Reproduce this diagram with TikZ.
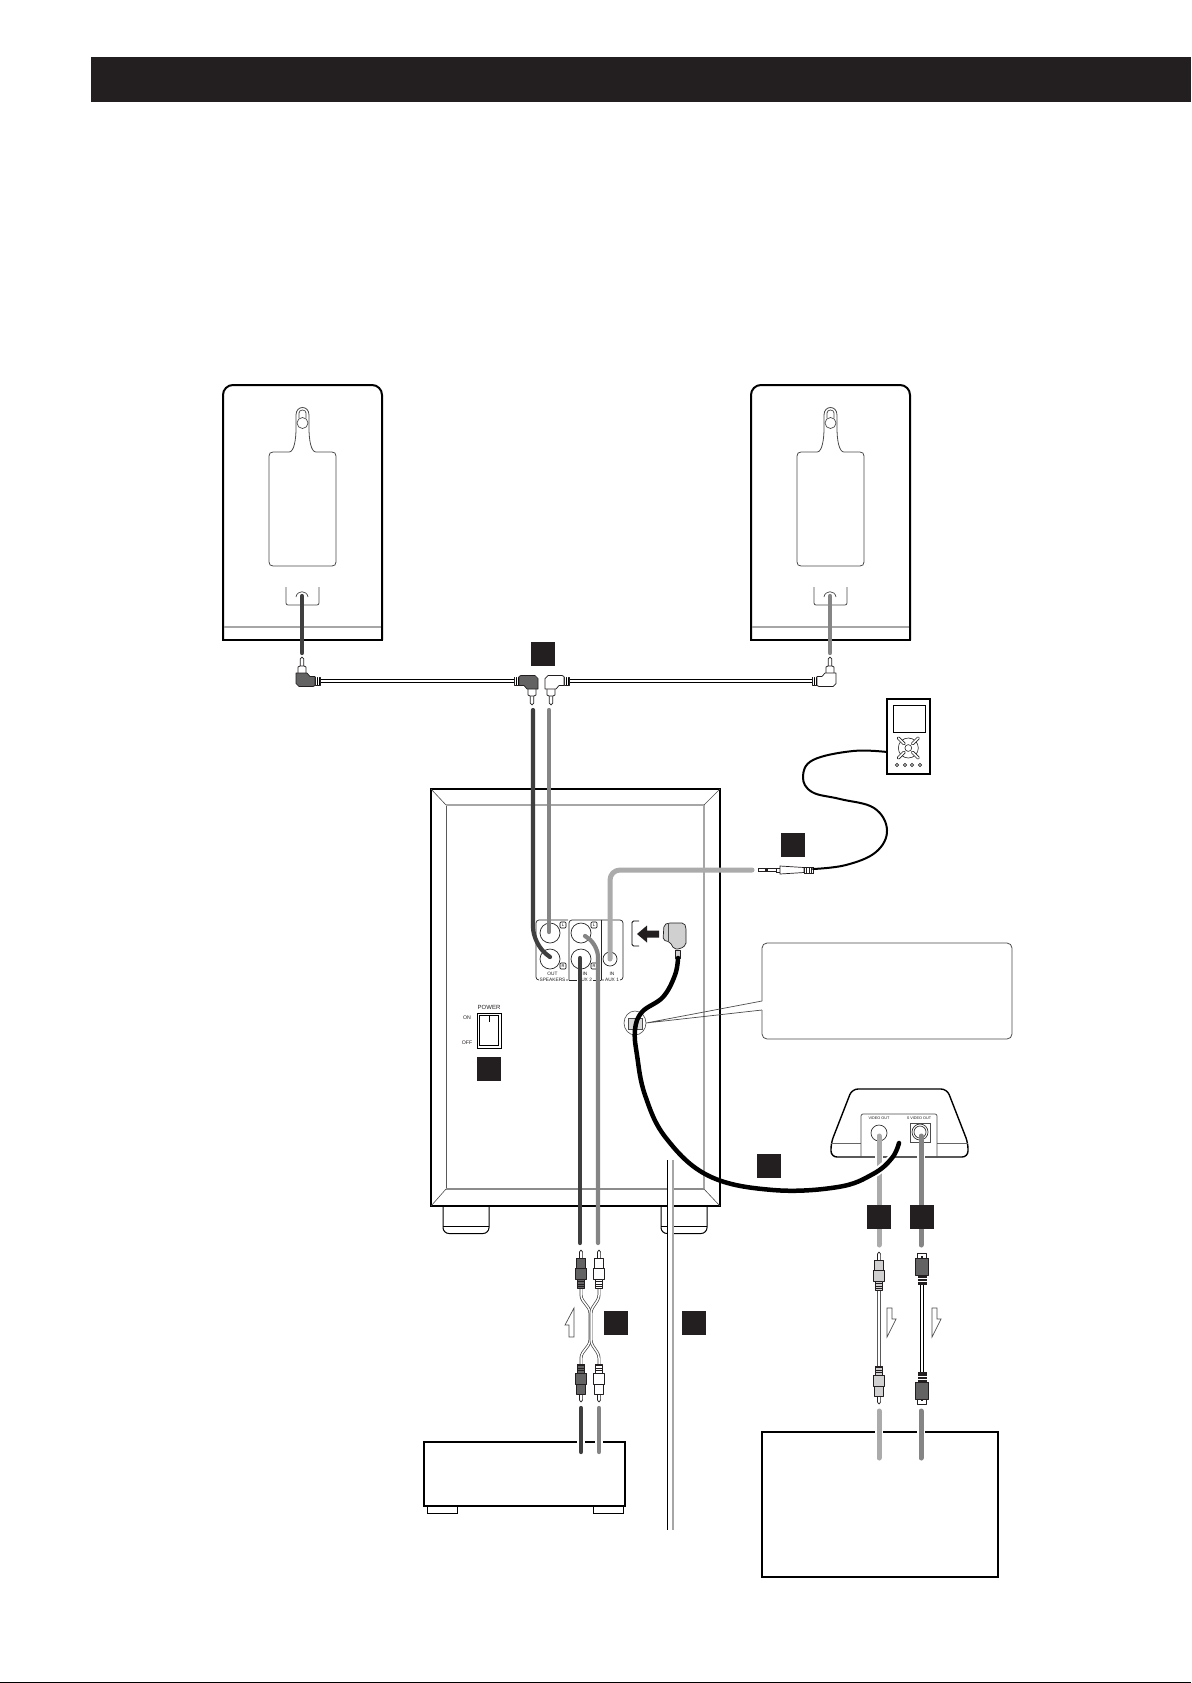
\documentclass[tikz,border=0pt]{standalone}
\usepackage{fontspec}
\setmainfont{Liberation Sans}
\definecolor{ink}{HTML}{231F20}
\definecolor{cabdark}{HTML}{3F3F3F}
\definecolor{cabmid}{HTML}{858585}
\definecolor{cablight}{HTML}{ABABAB}
\definecolor{plugdark}{HTML}{636363}
\definecolor{pluglight}{HTML}{D0D0D0}
\tikzset{
  sq/.style={fill=ink,minimum size=24pt,inner sep=0pt,outer sep=0pt},
  wire/.style={line width=#1,line cap=round,line join=round},
  wire/.default=4.2pt,
  halo/.style={white,line width=8.5pt,line cap=butt},
  pl/.style={draw=ink,line width=.7pt,line join=round},
  tiny/.style={font=\fontsize{4.8}{5}\selectfont,inner sep=0pt,text=ink},
  dbl/.style={draw=black,line width=1.1pt,double=white,double distance=1.5pt},
  dblthin/.style={draw=black!75,line width=.7pt,double=white,double distance=1.5pt,rounded corners=3pt},
  dblgrey/.style={draw=black!65,line width=.8pt,double=white,double distance=1.7pt},
  flow/.style={draw=black!70,line width=.7pt,fill=white,line join=miter}
}
\newcommand\spkbox[1]{%
\begin{scope}[xshift=#1pt]
  \draw[black,line width=2pt,rounded corners=10pt] (223,640)--(223,385)--(382,385)--(382,640);
  \draw[black,line width=2pt] (222,640)--(383,640);
  \draw[black!35,line width=1.2pt] (224,627)--(381,627);
  \draw[black!70,line width=.8pt] (296,415) .. controls (296,405) and (309,405) .. (309,415) -- (309,428)
     .. controls (309,440) and (311,452) .. (316,452) -- (332,452)
     .. controls (334.5,452) and (336,453.5) .. (336,456) -- (336,562)
     .. controls (336,564.5) and (334.5,566) .. (332,566) -- (273,566)
     .. controls (270.5,566) and (269,564.5) .. (269,562) -- (269,456)
     .. controls (269,453.5) and (270.5,452) .. (273,452) -- (289,452)
     .. controls (294,452) and (296,440) .. (296,428) -- cycle;
  \draw[black!70,line width=.7pt] (299,418) -- (299,413) .. controls (299,409) and (306,409) .. (306,413) -- (306,418);
  \draw[black!70,line width=.7pt] (302.5,423) circle[radius=5.5];
  \draw[black!70,line width=.8pt,rounded corners=2pt] (286,587)--(286,605)--(319,605)--(319,587);
  \draw[black!70,line width=.7pt] (296,597) .. controls (297,590) and (307,590) .. (308,597);
\end{scope}}
\newcommand\angplug[4]{% x, xscale, yscale, fill
\begin{scope}[shift={(#1,681)},xscale=#2,yscale=#3]
  \draw[pl,fill=white] (-1.8,-14)--(-1.8,-22)--(0,-24)--(1.8,-22)--(1.8,-14);
  \draw[pl,fill=white] (-4,-8)--(-4,-14)--(-2,-15)--(2,-15)--(4,-14)--(4,-8);
  \draw[pl,fill=black] (13,-4) rectangle (18,4);
  \draw[white,line width=.5pt] (14.5,-4)--(14.5,4) (16.3,-4)--(16.3,4);
  \draw[pl,fill=#4] (-6,-8)--(5,-8)--(8,-4.5)--(13,-4.5)--(13,4.5)--(11,5.5)--(-3,5.5)--(-6,2.5)--cycle;
\end{scope}}
\newcommand\rcaplug[4]{% x, y tip, dir, fill
\begin{scope}[shift={(#1,#2)},yscale=#3]
  \draw[pl,fill=white] (-1.6,9)--(-1.6,2)--(0,0)--(1.6,2)--(1.6,9);
  \draw[pl,fill=#4] (-4.5,8) rectangle (4.5,18);
  \draw[pl,fill=#4] (-5.5,18) rectangle (5.5,29);
  \draw[pl,fill=#4] (-3.5,29) rectangle (3.5,38);
  \draw[ink,line width=.7pt] (-3.5,31.5)--(3.5,31.5) (-3.5,34)--(3.5,34) (-3.5,36.3)--(3.5,36.3);
\end{scope}}
\newcommand\svplug[3]{% x, y tip, dir
\begin{scope}[shift={(#1,#2)},yscale=#3]
  \draw[pl,fill=white,line width=.9pt] (-4.5,0) rectangle (4.5,6);
  \fill[ink] (-1,3) rectangle (1,6);
  \draw[pl,fill=plugdark] (-6.5,5) rectangle (6.5,22);
  \fill[ink] (-4.5,22) rectangle (4.5,32);
  \draw[white,line width=.5pt] (-4.5,25)--(4.5,25) (-4.5,28)--(4.5,28);
\end{scope}}
\begin{document}
\begin{tikzpicture}[x=1pt,y=-1pt]
\useasboundingbox (0,0) rectangle (1191,1683);
\fill[white] (0,0) rectangle (1191,1683);
% header and bottom rule
\fill[ink] (91,57) rectangle (1191,102);
\fill[black] (0,1681.6) rectangle (1191,1683);

% speakers
\spkbox{0}
\spkbox{528}

% subwoofer feet and cabinet
\foreach \fx in {443,661}{
  \draw[black,line width=1pt,rounded corners=6pt,fill=white] (\fx,1206)--(\fx,1233.5)--(\fx+46,1233.5)--(\fx+46,1206);
  \draw[black,line width=.9pt] (\fx,1226)--(\fx+46,1226);
}
\draw[black,line width=1.4pt,fill=white] (431,789) rectangle (720,1206);
\draw[black!65,line width=.9pt] (446,805)--(446,1189);
\draw[black!35,line width=1.3pt] (446,805)--(704,805)--(704,1189);
\draw[black!45,line width=1.2pt] (446,1189)--(704,1189);
\draw[black!70,line width=.6pt] (431,789)--(446,805) (720,789)--(704,805) (431,1206)--(446,1189) (720,1206)--(704,1189);

% connector panel
\draw[black!85,line width=.7pt,rounded corners=3pt] (568,920)--(536,920)--(536,980)--(568,980);
\draw[black!85,line width=.7pt,rounded corners=3pt] (569,980)--(569,920)--(601,920);
\draw[black!85,line width=.7pt] (601,920)--(601,980);
\draw[black!85,line width=.7pt,rounded corners=3pt] (601,920)--(623,920)--(623,980)--(601,980);
\draw[black!85,line width=.7pt] (569,980)--(601,980);
\foreach \cx/\cy/\cr in {550/933/10,550/959/10,581/933/10,581/959/10,610/959/7}
  \draw[black!85,line width=.7pt] (\cx,\cy) circle[radius=\cr];
\foreach \bx/\by/\bt in {563/925/L,563/966/R,594/925/L,594/966/R}{
  \node[draw=black,line width=.6pt,fill=white,rounded corners=1pt,minimum size=6pt,inner sep=0pt,font=\fontsize{4}{4}\selectfont] (tag\bx\bt) at (\bx,\by) {\bt};
}
\node[tiny] (outlab) at (552.5,974) {OUT};
\node[tiny,fill=white,inner xsep=.6pt] (spklab) at (552.5,980) {SPEAKERS};
\node[tiny] (inlab) at (585,974) {IN};
\node[tiny,fill=white,inner xsep=.6pt] (auxa) at (585,980) {AUX 2};
\node[tiny] (inlabb) at (612,974) {IN};
\node[tiny,fill=white,inner xsep=.6pt] (auxb) at (612,980) {AUX 1};

% socket and arrow
\draw[black,line width=.9pt,rounded corners=1.5pt] (639,921)--(632,921)--(632,946)--(639,946);
\fill[ink] (637,934)--(647,925.5)--(647,930.5)--(659,930.5)--(659,937.5)--(647,937.5)--(647,942.5)--cycle;

% power switch
\node[tiny,font=\fontsize{6}{6}\selectfont] (pw) at (489,1007) {POWER};
\node[tiny,font=\fontsize{5.2}{6}\selectfont] (on) at (467,1018) {ON};
\node[tiny,font=\fontsize{5.2}{6}\selectfont] (off) at (467,1043) {OFF};
\draw[black,line width=.9pt] (477,1013) rectangle (501,1048);
\draw[black,line width=.9pt] (479.5,1015.5) rectangle (498.5,1045.5);
\draw[black,line width=.9pt] (489,1015.5)--(489,1022);

% power cord
\fill[white] (667,1160) rectangle (673,1530);
\draw[black,line width=.9pt] (667,1160)--(667,1530);
\draw[black!35,line width=1.6pt] (673,1160)--(673,1530);

% speaker cables
\draw[wire,cabdark] (302,596)--(302,653);
\draw[wire,cabmid] (830,596)--(830,653);
\draw[dbl] (320,681)--(515,681);
\draw[dbl] (569,681)--(812,681);
\angplug{302}{1}{1}{plugdark}
\angplug{532}{-1}{-1}{plugdark}
\angplug{551}{1}{-1}{white}
\angplug{830}{-1}{1}{white}
\draw[wire,cabdark,rounded corners=17pt] (533,710)--(533,944)--(550,957);
\draw[wire,cabmid] (549,710)--(549,932);

% aux1 cable and jack
\draw[wire=5pt,cablight,rounded corners=10pt] (610,959)--(610,870)--(752,870);
\draw[line width=.7pt,draw=ink,fill=white] (758,868.5)--(776,868.5)--(776,871.5)--(758,871.5)--cycle;
\fill[ink] (765,868) rectangle (768,872);
\draw[line width=.7pt,draw=ink,fill=white] (780,866)--(804,867.5)--(804,872.5)--(780,874)--cycle;
\draw[line width=.7pt,draw=ink] (776,868)--(780,868) (776,872)--(780,872);
\draw[line width=.7pt,draw=ink,fill=white] (804,867) rectangle (813,873);
\draw[ink,line width=.5pt] (806.5,867)--(806.5,873) (809,867)--(809,873) (811,867)--(811,873);
\draw[wire=2pt,black] plot[smooth,tension=.65] coordinates {(813,869) (846,865) (876,852) (887,830) (874,808) (840,799) (812,792) (803,777) (813,760) (853,751) (887,752)};

% portable player
\draw[black,line width=1.8pt,fill=white] (887,699) rectangle (930,774);
\draw[black,line width=1pt] (893,705.5) rectangle (925,732);
\begin{scope}[shift={(908.3,748)}]
  \draw[black!85,line width=.6pt] (0,0) circle[radius=3.4];
  \draw[black!85,line width=.6pt] (0,0) ellipse[x radius=10,y radius=10];
  \foreach \a in {45,135,225,315}{
    \draw[black!85,line width=.6pt,rotate=\a,fill=white,rounded corners=1pt] (5,-1.3) rectangle (15,1.3);
  }
\end{scope}
\foreach \dx in {897,905,912,920}
  \draw[black!85,line width=.6pt] (\dx,765) circle[radius=1.6];

% callout
\draw[black!70,line width=.8pt,rounded corners=5pt] (762,1001)--(762,943)--(1012,943)--(1012,1039)--(762,1039)--(762,1010);
\draw[black!70,line width=.7pt] (646,1023)--(762,1001) (646,1023)--(762,1010);

% clamp + optical cable, plug
\draw[black!70,line width=.6pt] (635,1023) ellipse[x radius=11,y radius=12];
\draw[black!70,line width=.6pt,fill=black!15] (628,1018) rectangle (642,1029);
\draw[pl,fill=pluglight] (675,958)--(675,950)--(680,950)--(680,958)--cycle;
\draw[pl,fill=pluglight,rounded corners=2pt] (664,925)--(668,923)--(684,923)--(686,927)--(686,945)--(680,949)--(674,949)--(670,942)--(663,940)--cycle;
\draw[black!70,line width=.5pt] (668,923)--(668,941);

% device halo and video device
\draw[black,line width=1.4pt,rounded corners=6pt,fill=white] (831,1157)--(831,1143)--(852,1089)--(947,1089)--(968,1143)--(968,1157)--cycle;
\draw[black!60,line width=.6pt] (831,1143)--(861,1143) (937,1143)--(968,1143);
\draw[black!70,line width=.7pt,rounded corners=2pt] (861,1157)--(861,1114)--(937,1114)--(937,1157);
\node[tiny,font=\fontsize{3.8}{4}\selectfont] (vout) at (879,1118) {VIDEO OUT};
\node[tiny,font=\fontsize{3.8}{4}\selectfont] (svout) at (919,1118) {S VIDEO OUT};
\draw[black!80,line width=.7pt] (879,1133) circle[radius=8];
\draw[black!70,line width=.6pt] (910,1123) rectangle (930,1142);
\draw[black!80,line width=.7pt] (920,1132) circle[radius=8] (920,1132) circle[radius=6];

% video cables (upper)
\draw[halo] (879,1150)--(879,1175);
\draw[halo] (921,1150)--(921,1175);
\draw[wire=5pt,cablight] (879,1136)--(879,1245);
\draw[wire=5pt,cabmid] (921,1136)--(921,1245);

% optical cable
\draw[halo] plot[smooth,tension=.65] coordinates {(838,1187) (873,1174) (892,1158)};
\draw[wire=4.5pt,black] plot[smooth,tension=.65] coordinates {(678,958) (675,975) (663,997) (642,1012) (635,1030) (637,1055) (645,1095) (666,1138) (709,1176) (773,1190) (838,1187) (873,1174) (892,1158) (899,1143)};

% aux2 cables
\draw[wire,cabdark] (580,958)--(580,1243);
\draw[wire,cabmid,rounded corners=12pt] (585,936)--(598,945)--(598,1243);

% audio RCA pair
\draw[dblthin] (581,1288)--(581,1298)--(590,1310)--(590,1343)--(581,1355)--(581,1364);
\draw[dblthin] (599,1288)--(599,1298)--(591,1310)--(591,1343)--(599,1355)--(599,1364);
\rcaplug{581}{1250}{1}{plugdark}
\rcaplug{599}{1250}{1}{white}
\rcaplug{581}{1402}{-1}{plugdark}
\rcaplug{599}{1402}{-1}{white}
\draw[flow] (574,1308)--(565,1325)--(569,1325)--(569,1337)--(574,1337)--cycle;

% video leads
\draw[dblgrey] (879,1290)--(879,1366);
\rcaplug{879}{1252}{1}{pluglight}
\rcaplug{879}{1404}{-1}{pluglight}
\draw[flow] (887,1308)--(892,1308)--(892,1319)--(896,1319)--(887,1337)--cycle;
\draw[dbl] (922,1284)--(922,1373);
\svplug{922}{1253}{1}
\svplug{922}{1404}{-1}
\draw[flow] (932,1308)--(937,1308)--(937,1319)--(941,1319)--(932,1337)--cycle;

% receiver
\draw[black,line width=1.4pt] (424,1442) rectangle (625,1506);
\foreach \fx in {427,593}
  \draw[black,line width=.9pt] (\fx,1506) rectangle (\fx+30,1513);
\draw[halo] (581,1436)--(581,1448);
\draw[halo] (599,1436)--(599,1448);
\draw[wire,cabdark] (581,1408)--(581,1452);
\draw[wire,cabmid] (599,1408)--(599,1452);

% monitor
\draw[black,line width=1.4pt] (762,1432) rectangle (998,1577);
\draw[halo] (879,1425)--(879,1438);
\draw[halo] (921,1425)--(921,1438);
\draw[wire=5pt,cablight] (879,1411)--(879,1458);
\draw[wire=5pt,cabmid] (921,1411)--(921,1458);

% key squares
\node[sq] (k1) at (543,654) {};
\node[sq] (k2) at (793,845) {};
\node[sq] (k3) at (489,1069) {};
\node[sq] (k4) at (769,1166) {};
\node[sq] (k5) at (879,1217) {};
\node[sq] (k6) at (921.5,1217) {};
\node[sq] (k7) at (615.5,1323) {};
\node[sq] (k8) at (694,1323) {};
\end{tikzpicture}
\end{document}
